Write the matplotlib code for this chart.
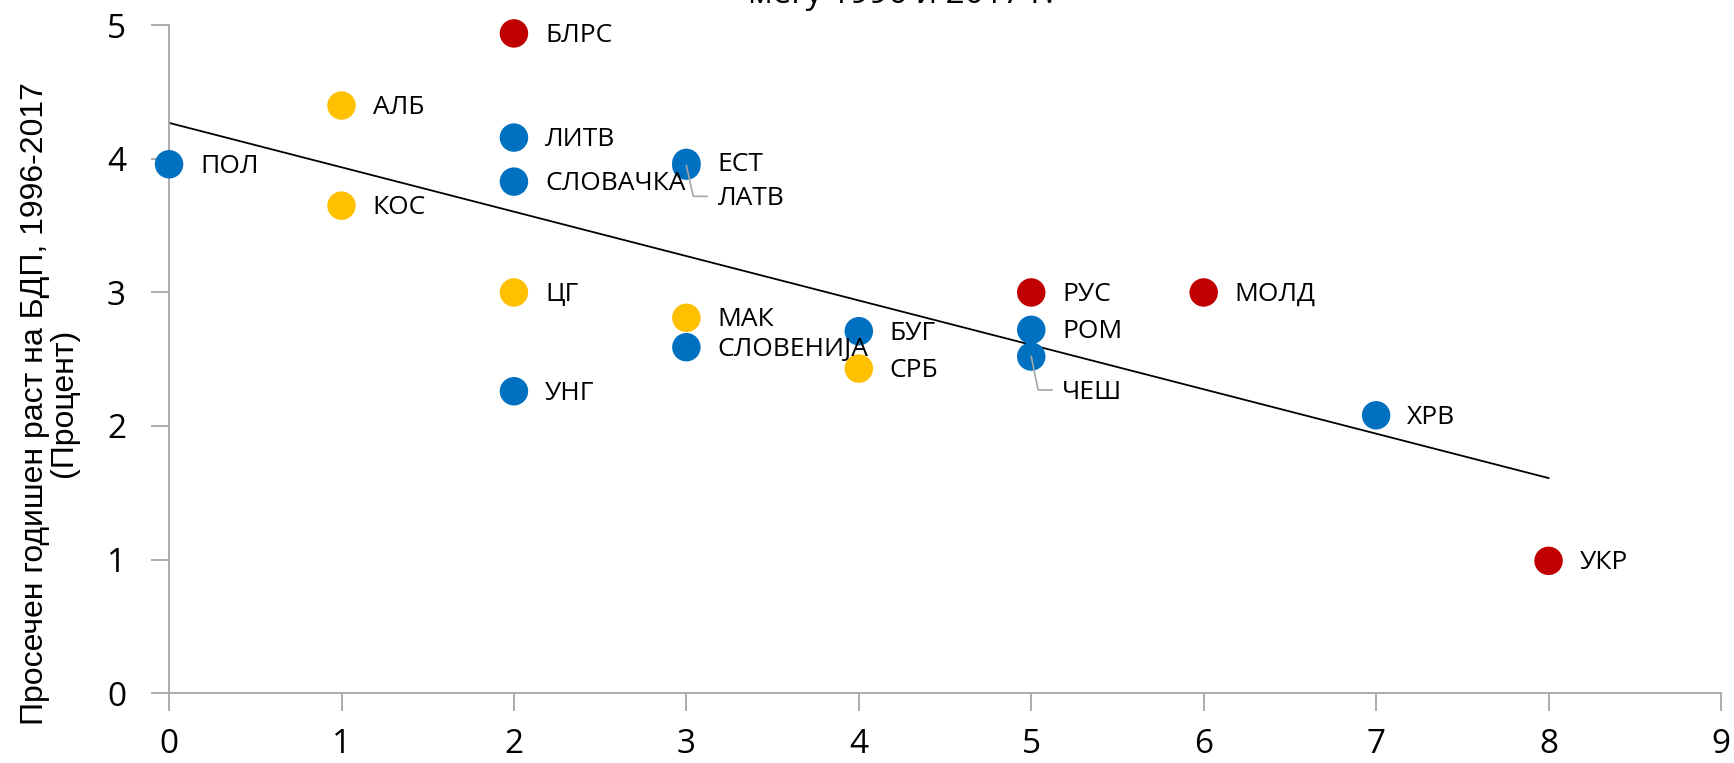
import matplotlib
matplotlib.use("Agg")
import matplotlib.pyplot as plt
import numpy as np

countries = ["ПОЛ", "АЛБ", "КОС", "БЛРС", "ЛИТВ", "СЛОВАЧКА", "ЦГ", "УНГ", "ЕСТ", "ЛАТВ",
             "МАК", "СЛОВЕНИЈА", "БУГ", "СРБ", "РУС", "РОМ", "ЧЕШ", "МОЛД", "ХРВ", "УКР"]
x_vals = [0, 1, 1, 2, 2, 2, 2, 2, 3, 3, 3, 3, 4, 4, 5, 5, 5, 6, 7, 8]
y_vals = [3.96, 4.40, 3.65, 4.94, 4.16, 3.83, 3.00, 2.26, 3.97, 3.95,
          2.81, 2.59, 2.71, 2.43, 3.00, 2.72, 2.52, 3.00, 2.08, 0.99]
groups = ["b", "y", "y", "r", "b", "b", "y", "b", "b", "b",
          "y", "b", "b", "y", "r", "b", "b", "r", "b", "r"]
group_colors = {"r": "#C00000", "y": "#FFC000", "b": "#0070C0"}
trend_x = [0, 8]
trend_y = [4.27, 1.61]

plt.rcParams['font.family'] = ['Open Sans', 'DejaVu Sans']

fig = plt.figure(figsize=(17.34, 7.63), dpi=100)
ax = fig.add_axes([0.0975, 0.0917, 0.895, 0.875])

ax.plot(trend_x, trend_y, color="black", lw=1.3, zorder=2)
ax.scatter(x_vals, y_vals, s=420, c=[group_colors[g] for g in groups],
           edgecolors="none", zorder=3, clip_on=False)

leader = {"ЛАТВ": -0.25, "ЧЕШ": -0.27}
for name, xv, yv in zip(countries, x_vals, y_vals):
    if name in leader:
        dy = leader[name]
        ax.plot([xv, xv + 0.04, xv + 0.12], [yv, yv + dy + 0.02, yv + dy + 0.02],
                color="#A6A6A6", lw=1.2, zorder=4)
        ax.annotate(name, (xv, yv + dy), xytext=(31, 0), textcoords="offset pixels",
                    ha="left", va="center", fontsize=19, color="black")
    else:
        ax.annotate(name, (xv, yv), xytext=(31, -2), textcoords="offset pixels",
                    ha="left", va="center", fontsize=19, color="black")

ax.set_xlim(0, 9)
ax.set_ylim(0, 5)
ax.set_xticks(range(0, 10))
ax.set_yticks(range(0, 6))
for s in ["top", "right"]:
    ax.spines[s].set_visible(False)
for s in ["left", "bottom"]:
    ax.spines[s].set_color("#A6A6A6")
    ax.spines[s].set_linewidth(1.3)
ax.tick_params(axis="both", colors="#A6A6A6", labelcolor="black", labelsize=24,
               length=13, width=1.3, direction="out")
ax.tick_params(axis="x", pad=12)
ax.tick_params(axis="y", pad=18)

ax.set_ylabel("Просечен годишен раст на БДП, 1996-2017\n(Процент)",
              fontsize=23, family=["Liberation Sans", "DejaVu Sans"],
              linespacing=0.95)
ax.yaxis.set_label_coords(-0.058, 0.434)

fig.text(901 / 1734, 1 - 3 / 763, "меѓу 1996 и 2017 г.", ha="center", va="baseline",
         fontsize=24, color="black")

fig.savefig("out.png", dpi=100)
